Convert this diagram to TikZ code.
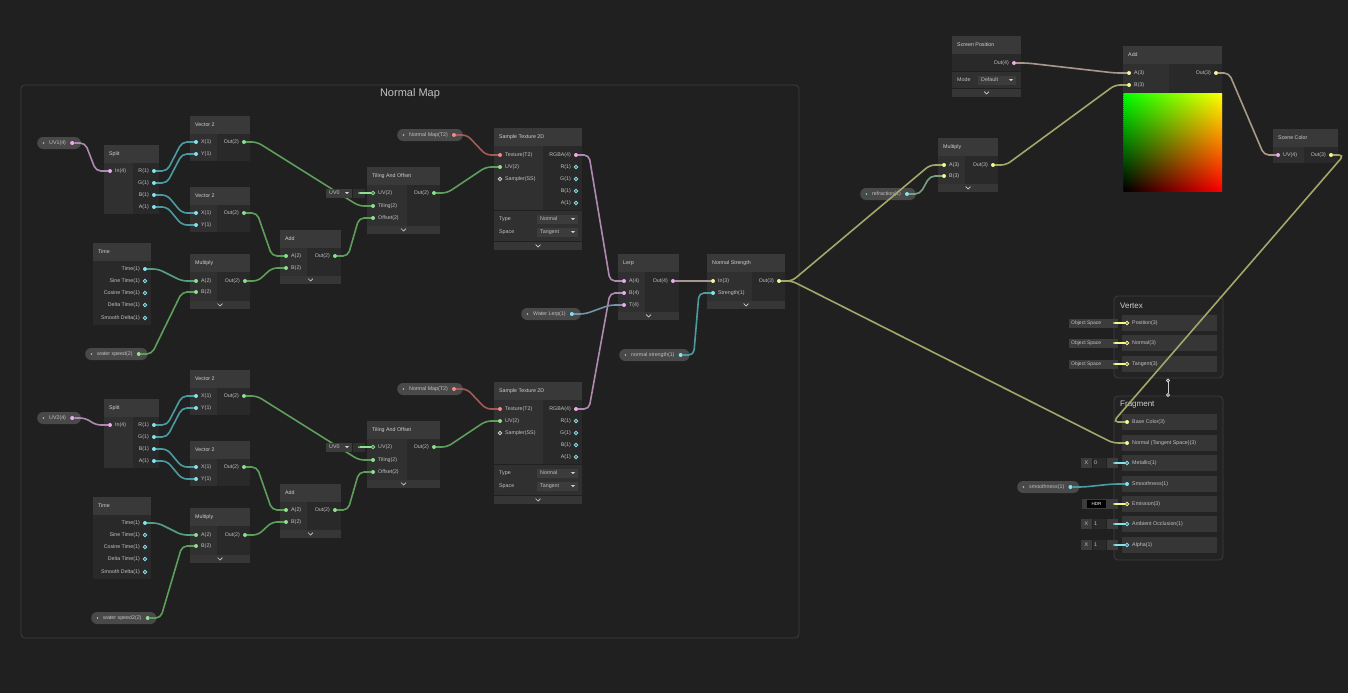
\documentclass[tikz,border=0pt]{standalone}
\usepackage{fontspec}
\setmainfont{Liberation Sans}
\usetikzlibrary{calc}
\definecolor{canvas}{HTML}{202020}
\definecolor{grpline}{HTML}{3E3E3E}
\definecolor{hdcol}{HTML}{393939}
\definecolor{incol}{HTML}{303030}
\definecolor{outcol}{HTML}{292929}
\definecolor{footcol}{HTML}{363636}
\definecolor{ddcol}{HTML}{3C3C3C}
\definecolor{valcol}{HTML}{2A2A2A}
\definecolor{fieldcol}{HTML}{363636}
\definecolor{mastcol}{HTML}{232323}
\definecolor{pillcol}{HTML}{494949}
\definecolor{txt}{HTML}{C2C2C2}
\definecolor{hdtxt}{HTML}{D0D0D0}
\definecolor{pgreen}{HTML}{8CE08F}
\definecolor{pcyan}{HTML}{84E2EE}
\definecolor{ppink}{HTML}{F0A9EF}
\definecolor{pyellow}{HTML}{F4F792}
\definecolor{pred}{HTML}{F28B86}
\definecolor{pwhite}{HTML}{CFCFCF}
\definecolor{wgreen}{HTML}{5E9E5B}
\definecolor{wcyan}{HTML}{4B9BA2}
\definecolor{wteal}{HTML}{55A07F}
\definecolor{wpink}{HTML}{AE89B0}
\definecolor{wolive}{HTML}{A4A66A}
\definecolor{wred}{HTML}{A45A55}

\newcommand{\sgframe}[7]{%
  \fill[hdcol] (#2,#3) rectangle (#4,#3+18);
  \fill[outcol] (#2,#3+18) rectangle (#4,#5);
  \fill[incol] (#2,#3+18) rectangle (#6,#5);
  \node[hd] (#1) at (#2+5,#3+9) {#7};}
\newcommand{\sgfoot}[3]{%
  \fill[footcol] (#1,#2) rectangle (#3,#2+8);
  \draw[hdtxt, line width=0.7pt] ({(#1+#3)/2-2.4},{#2+2.6}) -- ({(#1+#3)/2},{#2+5}) -- ({(#1+#3)/2+2.4},{#2+2.6});}
\newcommand{\inp}[5]{\node[#4] (#1) at (#2,#3) {};
  \node[lbl, anchor=west] (#1-l) at (#2+5,#3) {#5};}
\newcommand{\outp}[5]{\node[#4] (#1) at (#2,#3) {};
  \node[lbl, anchor=east] (#1-l) at (#2-5,#3) {#5};}
\newcommand{\pill}[5]{%
  \node[pill, anchor=west] (#1) at (#2,#3) {\hspace*{8pt}#4\hspace*{11pt}};
  \fill[pgreen] ($(#1.west)+(6.5,0)$) circle (0.9);
  \node[#5] (#1-o) at ($(#1.east)+(-9,0)$) {};}
\newcommand{\ddbox}[5]{%
  \fill[ddcol] (#2,#3-4.5) rectangle (#4,#3+4.5);
  \node[lbl, anchor=west] (#1) at (#2+3,#3) {#5};
  \fill[hdtxt] (#4-7,#3-1) -- (#4-3,#3-1) -- (#4-5,#3+1.2) -- cycle;}
\newcommand{\mfield}[4]{%
  \fill[fieldcol] (1122,#2-8) rectangle (1217,#2+8);
  \inp{#1}{1127}{#2}{#3}{#4}}
\newcommand{\objsp}[2]{%
  \fill[ddcol] (1069,#2-4.5) rectangle (1118,#2+4.5);
  \node[lbl, anchor=west, font=\fontsize{5}{6}\selectfont] (#1-v) at (1071,#2) {Object Space};
  \node[circle, fill=pyellow, inner sep=0, minimum size=2pt] (#1-d) at (1114,#2) {};
  \draw[pyellow, line width=1.2pt] (#1-d) -- (#1);}
\newcommand{\xval}[3]{%
  \fill[ddcol] (1081,#2-5) rectangle (1092,#2+5);
  \node[lbl] (#1-x) at (1086.5,#2) {X};
  \fill[valcol] (1092.5,#2-5) rectangle (1106,#2+5);
  \node[lbl, anchor=west] (#1-v) at (1094,#2) {#3};
  \fill[ddcol] (1107,#2-5) rectangle (1118,#2+5);
  \node[circle, fill=pcyan, inner sep=0, minimum size=2pt] (#1-d) at (1114,#2) {};
  \draw[pcyan, line width=1.2pt] (#1-d) -- (#1);}

\begin{document}
\begin{tikzpicture}[x=1pt, y=-1pt,
  hd/.style={anchor=west, inner sep=0, text=hdtxt, font=\fontsize{5.3}{6}\selectfont},
  lbl/.style={inner sep=0, text=txt, font=\fontsize{5.3}{6}\selectfont},
  fp/.style={circle, fill=#1, inner sep=0, minimum size=4pt},
  op/.style={circle, draw=#1, line width=0.9pt, inner sep=0, minimum size=3.4pt},
  pill/.style={rounded corners=6pt, fill=pillcol, minimum height=12pt, inner xsep=4pt, inner ysep=0,
    text=txt, font=\fontsize{5.3}{6}\selectfont},
  wire/.style={draw=#1, line width=1.6pt, rounded corners=5pt,
    to path={-- ++(13,0) -- ($(\tikztotarget)+(-14,0)$) -- (\tikztotarget)}},
  grp/.style={draw=grpline, line width=0.8pt, rounded corners=4pt}]
\fill[canvas] (0,0) rectangle (1348,693);
\useasboundingbox (0,0) rectangle (1348,693);

\draw[grp] (21,85) rectangle (799,638);
\node[text=txt, font=\fontsize{11}{12}\selectfont] (grptitle) at (410,94) {Normal Map};

\foreach \oy/\k/\uvl/\uvy/\wsl/\wsx/\wsy in {0/a/UV1(4)/143/water speed(2)/85/354,
    254/b/UV2(4)/418/water speed2(2)/91/618}{
  \pill{uv\k}{37}{\uvy}{\uvl}{fp=ppink}
  \sgframe{sp\k}{104}{145+\oy}{159}{214+\oy}{133}{Split}
  \inp{sp\k-in}{110}{171+\oy}{fp=ppink}{In(4)}
  \outp{sp\k-r}{154}{171+\oy}{fp=pcyan}{R(1)}
  \outp{sp\k-g}{154}{183+\oy}{fp=pcyan}{G(1)}
  \outp{sp\k-b}{154}{195+\oy}{fp=pcyan}{B(1)}
  \outp{sp\k-a}{154}{207+\oy}{fp=pcyan}{A(1)}

  \sgframe{va\k}{190}{116+\oy}{250}{161+\oy}{217}{Vector 2}
  \inp{va\k-x}{196}{142+\oy}{fp=pcyan}{X(1)}
  \inp{va\k-y}{196}{154+\oy}{fp=pcyan}{Y(1)}
  \outp{va\k-o}{244}{142+\oy}{fp=pgreen}{Out(2)}
  \sgframe{vb\k}{190}{187+\oy}{250}{232+\oy}{217}{Vector 2}
  \inp{vb\k-x}{196}{213+\oy}{fp=pcyan}{X(1)}
  \inp{vb\k-y}{196}{225+\oy}{fp=pcyan}{Y(1)}
  \outp{vb\k-o}{244}{213+\oy}{fp=pgreen}{Out(2)}

  \sgframe{tm\k}{93}{243+\oy}{151}{325+\oy}{93}{Time}
  \outp{tm\k-t}{145}{269+\oy}{fp=pcyan}{Time(1)}
  \outp{tm\k-s}{145}{281+\oy}{op=pcyan}{Sine Time(1)}
  \outp{tm\k-c}{145}{293+\oy}{op=pcyan}{Cosine Time(1)}
  \outp{tm\k-d}{145}{305+\oy}{op=pcyan}{Delta Time(1)}
  \outp{tm\k-m}{145}{318+\oy}{op=pcyan}{Smooth Delta(1)}
  \pill{ws\k}{\wsx}{\wsy}{\wsl}{fp=pgreen}

  \sgframe{mu\k}{190}{254+\oy}{250}{301+\oy}{217}{Multiply}
  \sgfoot{190}{301+\oy}{250}
  \inp{mu\k-a}{196}{281+\oy}{fp=pgreen}{A(2)}
  \inp{mu\k-b}{196}{292+\oy}{fp=pgreen}{B(2)}
  \outp{mu\k-o}{245}{281+\oy}{fp=pgreen}{Out(2)}

  \sgframe{ad\k}{280}{230+\oy}{341}{276+\oy}{307}{Add}
  \sgfoot{280}{276+\oy}{341}
  \inp{ad\k-a}{286}{256+\oy}{fp=pgreen}{A(2)}
  \inp{ad\k-b}{286}{268+\oy}{fp=pgreen}{B(2)}
  \outp{ad\k-o}{335}{256+\oy}{fp=pgreen}{Out(2)}

  \sgframe{to\k}{367}{167+\oy}{440}{226+\oy}{407}{Tiling And Offset}
  \sgfoot{367}{226+\oy}{440}
  \inp{to\k-uv}{373}{193+\oy}{op=pgreen}{UV(2)}
  \inp{to\k-t}{373}{206+\oy}{fp=pgreen}{Tiling(2)}
  \inp{to\k-f}{373}{218+\oy}{fp=pgreen}{Offset(2)}
  \outp{to\k-o}{434}{193+\oy}{fp=pgreen}{Out(2)}

  \pill{nm\k}{397}{135+\oy}{Normal Map(T2)}{fp=pred}
  \sgframe{st\k}{494}{128+\oy}{582}{210+\oy}{543}{Sample Texture 2D}
  \inp{st\k-tex}{500}{155+\oy}{fp=pred}{Texture(T2)}
  \inp{st\k-uv}{500}{167+\oy}{fp=pgreen}{UV(2)}
  \inp{st\k-ss}{500}{179+\oy}{op=pwhite}{Sampler(SS)}
  \outp{st\k-rgba}{576}{155+\oy}{fp=ppink}{RGBA(4)}
  \outp{st\k-r}{576}{167+\oy}{op=pcyan}{R(1)}
  \outp{st\k-g}{576}{179+\oy}{op=pcyan}{G(1)}
  \outp{st\k-b}{576}{191+\oy}{op=pcyan}{B(1)}
  \outp{st\k-a}{576}{203+\oy}{op=pcyan}{A(1)}
  \fill[incol] (494,211+\oy) rectangle (582,241+\oy);
  \node[lbl, anchor=west] (st\k-type) at (499,219+\oy) {Type};
  \ddbox{st\k-typesel}{537}{219+\oy}{578}{Normal}
  \node[lbl, anchor=west] (st\k-space) at (499,232+\oy) {Space};
  \ddbox{st\k-spacesel}{537}{232+\oy}{578}{Tangent}
  \sgfoot{494}{242+\oy}{582}

  \draw[wire=wpink] (uv\k-o) to (sp\k-in);
  \draw[wire=wcyan] (sp\k-r) to (va\k-x) (sp\k-g) to (va\k-y)
    (sp\k-b) to (vb\k-x) (sp\k-a) to (vb\k-y);
  \draw[wire=wteal] (tm\k-t) to (mu\k-a);
  \draw[wire=wgreen] (va\k-o) to (to\k-t) (vb\k-o) to (ad\k-a) (ws\k-o) to (mu\k-b)
    (mu\k-o) to (ad\k-b) (ad\k-o) to (to\k-f) (to\k-o) to (st\k-uv);
  \draw[wire=wred] (nm\k-o) to (st\k-tex);

  \ddbox{uvsel\k}{326}{193+\oy}{352}{UV0}
  \fill[ddcol!80!black] (352.5,188.5+\oy) rectangle (365,197.5+\oy);
  \node[circle, fill=pgreen, inner sep=0, minimum size=2pt] (uvsel\k-d) at (359,193+\oy) {};
  \draw[pgreen, line width=1.2pt] (uvsel\k-d) -- (to\k-uv);
}

\sgframe{lp}{618}{254}{679}{312}{645}{Lerp}
\sgfoot{618}{312}{679}
\inp{lp-a}{624}{281}{fp=ppink}{A(4)}
\inp{lp-b}{624}{293}{fp=ppink}{B(4)}
\inp{lp-t}{624}{305}{fp=ppink}{T(4)}
\outp{lp-o}{673}{281}{fp=ppink}{Out(4)}
\pill{wl}{521}{314}{Water Lerp(1)}{fp=pcyan}

\sgframe{nst}{707}{254}{785}{301}{752}{Normal Strength}
\sgfoot{707}{301}{785}
\inp{nst-in}{713}{281}{fp=pyellow}{In(3)}
\inp{nst-s}{713}{293}{fp=pcyan}{Strength(1)}
\outp{nst-o}{779}{281}{fp=pyellow}{Out(3)}
\pill{nsp}{619}{355}{normal strength(1)}{fp=pcyan}

\sgframe{scp}{952}{36}{1021}{71}{952}{Screen Position}
\outp{scp-o}{1014}{63}{fp=ppink}{Out(4)}
\fill[incol] (952,72) rectangle (1021,88);
\node[lbl, anchor=west] (mode) at (957,80) {Mode};
\ddbox{modesel}{978}{80}{1016}{Default}
\sgfoot{952}{89}{1021}

\sgframe{adr}{1123}{46}{1222}{93}{1169}{Add}
\inp{adr-a}{1129}{73}{fp=pyellow}{A(3)}
\inp{adr-b}{1129}{85}{fp=pyellow}{B(3)}
\outp{adr-o}{1216}{73}{fp=pyellow}{Out(3)}
\foreach \i in {0,...,48}{
  \pgfmathsetmacro\g{1-\i/48}
  \definecolor{gl}{rgb}{0,\g,0}\definecolor{gr}{rgb}{1,\g,0}
  \shade[left color=gl, right color=gr] (1123.5,93+2*\i) rectangle (1222,95.2+2*\i);
}

\sgframe{mur}{938}{138}{998}{184}{965}{Multiply}
\sgfoot{938}{184}{998}
\inp{mur-a}{944}{165}{fp=pyellow}{A(3)}
\inp{mur-b}{944}{176}{fp=pyellow}{B(3)}
\outp{mur-o}{993}{165}{fp=pyellow}{Out(3)}
\pill{rf}{860}{194}{refraction(1)}{fp=pcyan}

\sgframe{scc}{1273}{129}{1338}{163}{1304}{Scene Color}
\inp{scc-uv}{1278}{155}{fp=ppink}{UV(4)}
\outp{scc-o}{1331}{155}{fp=pyellow}{Out(3)}

\draw[grp, fill=mastcol] (1114,296) rectangle (1223,378);
\node[anchor=west, inner sep=0, text=hdtxt, font=\fontsize{8}{9}\selectfont] (vtx) at (1120,306) {Vertex};
\mfield{vpos}{323}{op=pyellow}{Position(3)}
\mfield{vnrm}{343}{op=pyellow}{Normal(3)}
\mfield{vtan}{364}{op=pyellow}{Tangent(3)}
\objsp{vpos}{323}
\objsp{vnrm}{343}
\objsp{vtan}{364}

\draw[grp, fill=mastcol] (1114,396) rectangle (1223,560);
\node[anchor=west, inner sep=0, text=hdtxt, font=\fontsize{8}{9}\selectfont] (frg) at (1120,405) {Fragment};
\mfield{fbase}{422}{fp=pyellow}{Base Color(3)}
\mfield{fnrm}{443}{fp=pyellow}{Normal (Tangent Space)(3)}
\mfield{fmet}{463}{op=pcyan}{Metallic(1)}
\mfield{fsmo}{484}{fp=pcyan}{Smoothness(1)}
\mfield{femi}{504}{op=pyellow}{Emission(3)}
\mfield{fao}{524}{op=pcyan}{Ambient Occlusion(1)}
\mfield{falp}{545}{op=pcyan}{Alpha(1)}
\xval{fmet}{463}{0}
\xval{fao}{524}{1}
\xval{falp}{545}{1}
\fill[ddcol] (1082,499) rectangle (1107,509);
\fill[black] (1087,500) rectangle (1106,508);
\node[lbl, text=white, font=\fontsize{4.5}{5}\selectfont] (hdr) at (1096.5,504) {HDR};
\fill[ddcol] (1107,499) rectangle (1118,509);
\node[circle, fill=pyellow, inner sep=0, minimum size=2pt] (femi-d) at (1114,504) {};
\draw[pyellow, line width=1.2pt] (femi-d) -- (femi);
\pill{smp}{1017}{487}{smoothness(1)}{fp=pcyan}

\node[op=pwhite, minimum size=3pt] (vlink) at (1168,380.5) {};
\node[op=pwhite, minimum size=3pt] (flink) at (1168,395) {};
\draw[pwhite, line width=0.8pt] (vlink) -- (flink);

\draw[wire=wpink] (sta-rgba) to (lp-a) (stb-rgba) to (lp-b);
\draw[wire=wcyan!60!wpink] (wl-o) to (lp-t);
\draw[wire=wpink!60!wolive] (lp-o) to (nst-in);
\draw[wire=wcyan] (nsp-o) to (nst-s);
\draw[wire=wolive] (nst-o) to (mur-a) (nst-o) to (fnrm) (mur-o) to (adr-b) (scc-o) to (fbase);
\draw[wire=wpink!50!wolive] (scp-o) to (adr-a);
\draw[wire=wolive!60!wpink] (adr-o) to (scc-uv);
\draw[wire=wcyan!50!wolive] (rf-o) to (mur-b);
\draw[wire=wcyan] (smp-o) to (fsmo);
\end{tikzpicture}
\end{document}
